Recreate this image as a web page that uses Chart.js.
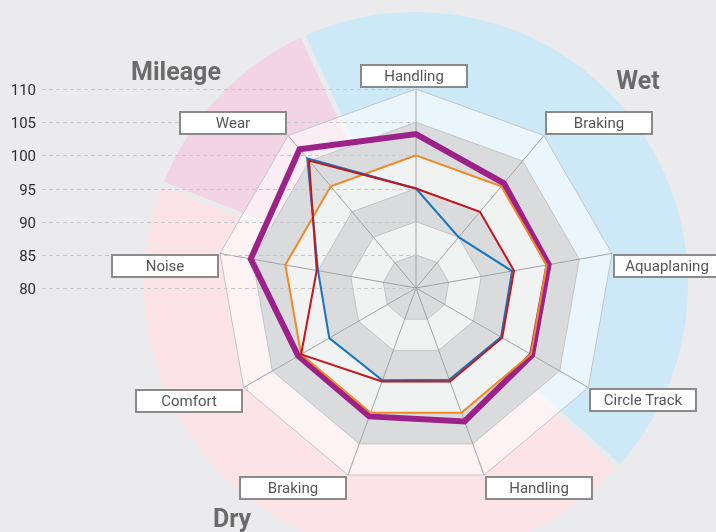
<!DOCTYPE html>
<html><head><meta charset="utf-8">
<script src="https://cdn.jsdelivr.net/npm/chart.js@4.4.0/dist/chart.umd.min.js"></script>
<style>
html,body{margin:0;padding:0;background:#ebebed;}
#wrap{position:relative;width:716px;height:532px;overflow:hidden;background:#ebebed;}
#bg,#fg{position:absolute;left:0;top:0;}
</style></head><body>
<div id="wrap">
<canvas id="bg" width="716" height="600" style="width:716px;height:600px"></canvas>
<canvas id="fg" width="716" height="532" style="width:716px;height:532px"></canvas>
</div>
<script>
// ---- data ----
const axisLabels = ["Handling","Braking","Aquaplaning","Circle Track","Handling","Braking","Comfort","Noise","Wear"];
const seriesPurple = [103.2, 100.6, 100.3, 100.2, 101.4, 100.6, 100.5, 105.3, 107.3];
const seriesOrange = [100, 100, 100, 100, 100, 100, 100, 100, 100];
const seriesBlue   = [95.0, 90.0, 94.7, 94.8, 94.7, 94.8, 95.1, 95.0, 105.5];
const seriesRed    = [95.0, 95.0, 95.0, 95.0, 95.0, 95.0, 100.0, 95.2, 105.1];
const tickLabels = ["80","85","90","95","100","105","110"];
const scaleMin = 80, scaleMax = 110, scaleStep = 5;
const groupNames = ["Mileage","Wet","Dry"];
const groupSpans = [44, 156.5, 159.5];   // degrees of each sector
const groupStart = -68.5;                // degrees from top
const groupColors = ["#f2d4e5","#cde9f8","#fbe3e6"];

// ---- background sectors ----
new Chart(document.getElementById('bg'), {
  type: 'pie',
  data: { labels: groupNames, datasets: [{ data: groupSpans, backgroundColor: groupColors,
    borderColor: '#ebebed', borderWidth: 5, hoverOffset: 0 }] },
  options: {
    responsive: false, animation: false, events: [],
    rotation: groupStart, radius: 274.5,
    layout: { padding: { left: 144, right: 28, top: 12, bottom: 44 } },
    plugins: { legend: { display: false }, tooltip: { enabled: false } }
  }
});

// ---- radar ----
const ringFills = ['#dadbdd','#f1f2f2','#dadbdd','#f1f2f2','#dadbdd','rgba(255,255,255,0.58)'];
const FONT = 'Roboto, "DejaVu Sans", sans-serif';

function polyPath(ctx, s, r, n) {
  ctx.beginPath();
  for (let i = 0; i < n; i++) {
    const p = s.getPointPosition(i, r);
    if (i) ctx.lineTo(p.x, p.y); else ctx.moveTo(p.x, p.y);
  }
  ctx.closePath();
}

const decor = {
  id: 'decor',
  beforeDraw(chart) {
    const s = chart.scales.r, ctx = chart.ctx, n = chart.data.labels.length;
    const vals = s.ticks.map(t => t.value);
    ctx.save();
    for (let k = vals.length - 1; k >= 1; k--) {
      polyPath(ctx, s, s.getDistanceFromCenterForValue(vals[k]), n);
      ctx.fillStyle = ringFills[k - 1];
      ctx.fill();
    }
    ctx.restore();
  },
  beforeDatasetsDraw(chart) {
    const s = chart.scales.r, ctx = chart.ctx;
    ctx.save();
    ctx.setLineDash([4, 3]);
    ctx.strokeStyle = '#c9c9cb';
    ctx.lineWidth = 1;
    ctx.font = '15px ' + FONT;
    ctx.textAlign = 'right';
    ctx.textBaseline = 'middle';
    s.ticks.forEach((t, k) => {
      const y = Math.round(s.yCenter - s.getDistanceFromCenterForValue(t.value)) + 0.5;
      ctx.beginPath();
      ctx.moveTo(42, y);
      ctx.lineTo(s.xCenter, y);
      ctx.stroke();
      ctx.fillStyle = '#2e2e2e';
      ctx.fillText(tickLabels[k], 36, y + 1.5);
    });
    ctx.restore();
  },
  afterDraw(chart) {
    const s = chart.scales.r, ctx = chart.ctx, n = chart.data.labels.length;
    ctx.save();
    const w = 108, h = 24;
    for (let i = 0; i < n; i++) {
      const p = s.getPointPosition(i, s.drawingArea);
      const deg = i * 360 / n;
      let x, y;
      if (deg === 0) { x = p.x - w / 2 - 2; }
      else if (deg < 180) { x = p.x + 1; }
      else { x = p.x - w - 1; }
      if (deg < 60 || deg > 300) y = p.y - h - 1; else y = p.y + 1;
      x = Math.round(x); y = Math.round(y);
      ctx.fillStyle = '#ffffff';
      ctx.fillRect(x, y, w, h);
      ctx.strokeStyle = '#8a8a8a';
      ctx.lineWidth = 2;
      ctx.strokeRect(x + 1, y + 1, w - 2, h - 2);
      ctx.fillStyle = '#555555';
      ctx.font = '15px ' + FONT;
      ctx.textAlign = 'center';
      ctx.textBaseline = 'middle';
      ctx.fillText(chart.data.labels[i], x + w / 2, y + h / 2 + 1);
    }
    // sector titles
    ctx.font = 'bold 25px ' + FONT;
    ctx.fillStyle = '#6b6b6b';
    ctx.textAlign = 'center';
    ctx.textBaseline = 'alphabetic';
    const titlePos = [[176, 80], [638, 89], [232, 527]];
    groupNames.forEach((g, i) => ctx.fillText(g, titlePos[i][0], titlePos[i][1]));
    ctx.restore();
  }
};

new Chart(document.getElementById('fg'), {
  type: 'radar',
  data: {
    labels: axisLabels,
    datasets: [
      { label: 'Tyre D', data: seriesRed, borderColor: '#c4161c', borderWidth: 2 },
      { label: 'Tyre C', data: seriesBlue, borderColor: '#1b75bb', borderWidth: 2 },
      { label: 'Tyre B', data: seriesOrange, borderColor: '#f28a24', borderWidth: 2 },
      { label: 'Tyre A', data: seriesPurple, borderColor: '#9c2189', borderWidth: 6 }
    ].map(d => Object.assign(d, { fill: false, pointRadius: 0, pointHoverRadius: 0,
      backgroundColor: 'transparent', borderJoinStyle: 'miter', tension: 0 }))
  },
  options: {
    responsive: false, animation: false, events: [],
    layout: { padding: { left: 217, right: 101, top: 89, bottom: 45 } },
    scales: {
      r: {
        min: scaleMin, max: scaleMax,
        ticks: { stepSize: scaleStep, display: false },
        pointLabels: { display: false },
        grid: { color: '#c4c4c6', lineWidth: 1 },
        angleLines: { color: '#a3a3a5', lineWidth: 1 }
      }
    },
    plugins: { legend: { display: false }, tooltip: { enabled: false } }
  },
  plugins: [decor]
});
</script>
</body></html>
